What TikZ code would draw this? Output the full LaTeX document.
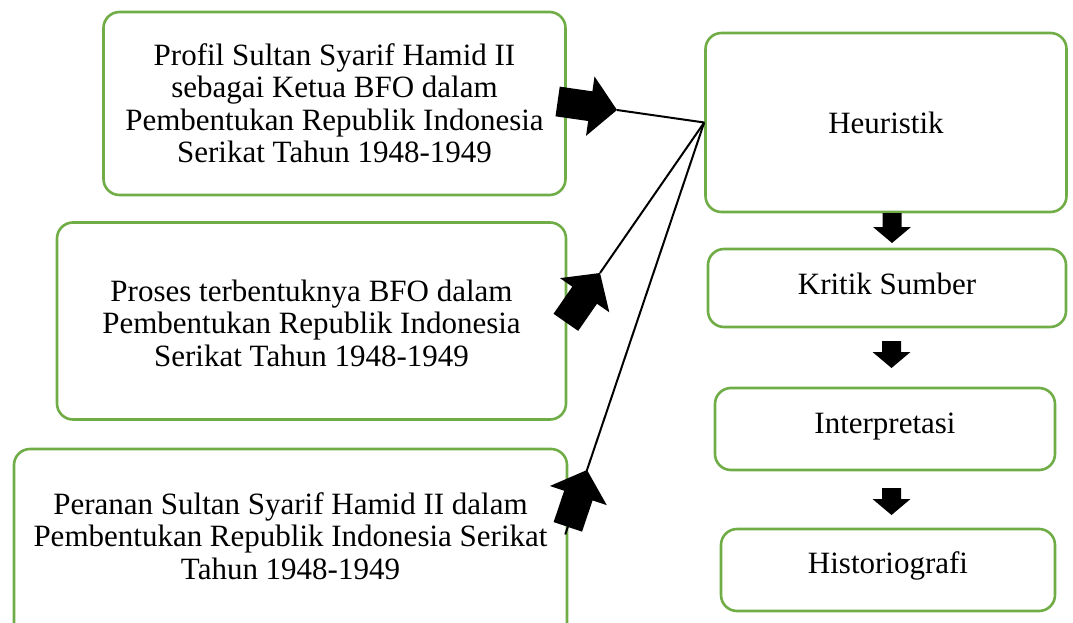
\documentclass[tikz,border=0pt]{standalone}
\usepackage{fontspec}
\setmainfont{Liberation Serif}
\usetikzlibrary{calc}
\definecolor{boxgreen}{RGB}{112,173,71}
\tikzset{
  gbox/.style={draw=boxgreen, line width=2.6pt, rounded corners=16pt, fill=white, inner sep=0pt},
  btext/.style={align=center, font=\fontsize{31}{32.5}\selectfont, inner sep=0pt},
  rfont/.style={font=\fontsize{31}{32.5}\selectfont},
  conn/.style={line width=2pt, black},
}
% block arrow: tip #1, pointing toward #2, body away from #2
\newcommand\bigblockarrow[3]{%
  \coordinate (#3-hb) at ($(#1)!-27pt!(#2)$);
  \coordinate (#3-e) at ($(#1)!-60pt!(#2)$);
  \fill[black] (#1) -- ($(#3-hb)!30pt!90:(#1)$) -- ($(#3-hb)!15pt!90:(#1)$)
    -- ($(#3-e)!15pt!90:(#1)$) -- ($(#3-e)!15pt!-90:(#1)$)
    -- ($(#3-hb)!15pt!-90:(#1)$) -- ($(#3-hb)!30pt!-90:(#1)$) -- cycle;
}
\newcommand\downblockarrow[3]{% x, ytop, ytip
  \fill[black] (#1-9.5,#2) -- (#1+9.5,#2) -- (#1+9.5,#3-16) -- (#1+19,#3-16)
    -- (#1,#3) -- (#1-19,#3-16) -- (#1-9.5,#3-16) -- cycle;
}
\begin{document}
\begin{tikzpicture}[x=1pt,y=-1pt]
\useasboundingbox (0,0) rectangle (1073,623);
% left boxes
\node[gbox, minimum width=462pt, minimum height=183pt] (b1) at (334.5,103.5) {};
\node[btext] (t1) at (334.5,103) {Profil Sultan Syarif Hamid II\\sebagai Ketua BFO dalam\\Pembentukan Republik Indonesia\\Serikat Tahun 1948-1949};
\node[gbox, minimum width=509pt, minimum height=197pt] (b2) at (311.5,321) {};
\node[btext] (t2) at (311.5,323) {Proses terbentuknya BFO dalam\\Pembentukan Republik Indonesia\\Serikat Tahun 1948-1949};
\node[gbox, minimum width=553pt, minimum height=200pt] (b3) at (290.5,549) {};
\node[btext] (t3) at (290.5,536) {Peranan Sultan Syarif Hamid II dalam\\Pembentukan Republik Indonesia Serikat\\Tahun 1948-1949};
% right boxes
\node[gbox, rfont, minimum width=361pt, minimum height=179pt] (heu) at (886,122.5) {Heuristik};
\node[gbox, rfont, text height=22pt, text depth=10pt, minimum width=358pt, minimum height=78pt] (krit) at (887,288) {Kritik Sumber};
\node[gbox, rfont, text height=22pt, text depth=14pt, minimum width=340pt, minimum height=82pt] (intp) at (885,429) {Interpretasi};
\node[gbox, rfont, text height=22pt, text depth=16pt, minimum width=334pt, minimum height=82pt] (hist) at (888,570) {Historiografi};
% connectors
\coordinate (p1) at (617,110);
\coordinate (p2) at (600,273);
\coordinate (p3) at (587,470);
\draw[conn] (heu.west) -- (p1);
\draw[conn] (heu.west) -- (p2);
\draw[conn] (heu.west) -- ($(p3)!-68pt!(heu.west)$);
\bigblockarrow{p1}{heu.west}{a1}
\bigblockarrow{p2}{heu.west}{a2}
\bigblockarrow{p3}{heu.west}{a3}
% down arrows
\downblockarrow{892}{213}{243}
\downblockarrow{891.5}{341}{368}
\downblockarrow{891.5}{488}{515}
\end{tikzpicture}
\end{document}
